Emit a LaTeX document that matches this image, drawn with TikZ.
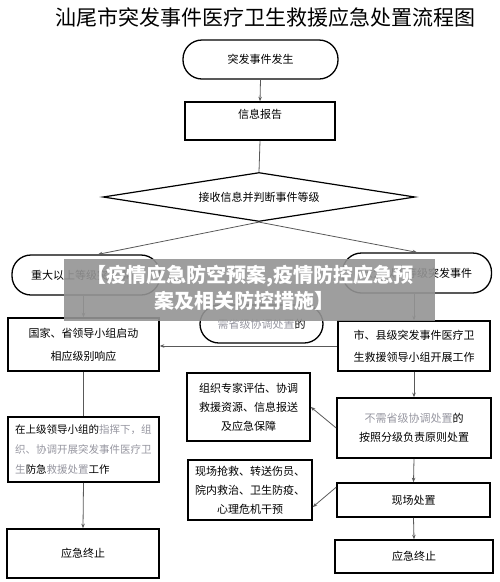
\documentclass[tikz,border=0pt]{standalone}
\usepackage{fontspec}
\setmainfont{Noto Sans CJK SC}
\usetikzlibrary{shapes.geometric,arrows.meta}
\definecolor{fade}{RGB}{150,150,160}
\begin{document}
\begin{tikzpicture}[x=1pt,y=-1pt,
 box/.style={draw=black,line width=1.6pt,rectangle,inner sep=0pt,font=\fontsize{11}{19}\selectfont,align=center},
 stad/.style={draw=black,line width=1.3pt,rounded corners=19pt,inner sep=0pt,font=\fontsize{11}{19}\selectfont},
 conn/.style={draw=black!65,line width=0.8pt},
 arr/.style={conn,-{Stealth[length=4.5pt,width=3.5pt]}},
 wmtext/.style={text=white,font=\fontsize{20}{20}\selectfont\bfseries,inner sep=0pt},
]
\useasboundingbox (0,0) rectangle (500,582);
\node[font=\fontsize{21}{21}\selectfont] (title) at (266,18) {汕尾市突发事件医疗卫生救援应急处置流程图};

\node[stad,minimum width=155pt,minimum height=39pt] (start) at (260.5,59.5) {突发事件发生};
\node[box,minimum width=150pt,minimum height=38pt] (info) at (260,121) {};
\node[font=\fontsize{11}{13}\selectfont] (infot) at (260,114) {信息报告};
\node[draw=black,line width=1.2pt,diamond,aspect=6.4,inner sep=0pt,minimum width=312pt,minimum height=49pt,font=\fontsize{11}{13}\selectfont] (dia) at (259,197) {接收信息并判断事件等级};

\node[stad,minimum width=148pt,minimum height=40pt] (lstad) at (86,275) {重大以上等级突发事件};
\node[stad,minimum width=149pt,minimum height=40pt] (rstad) at (417,273) {较大以下等级突发事件};

\node[box,minimum width=151pt,minimum height=53pt,font=\fontsize{11}{23}\selectfont] (lb1) at (83.5,344.5) {国家、省领导小组启动\\相应级别响应};
\node[box,minimum width=152pt,minimum height=50pt,font=\fontsize{11}{22}\selectfont] (rb1) at (414,346) {市、县级突发事件医疗卫\\生救援领导小组开展工作};
\node[stad,minimum width=123pt,minimum height=38pt] (mst) at (261.5,324) {\textcolor{fade}{需省级协调处置}的};

\node[box,minimum width=151pt,minimum height=65pt,font=\fontsize{10.5}{20}\selectfont,align=left] (lb2) at (83.5,449.5) {在上级领导小组的\textcolor{fade}{指挥下，组}\\\textcolor{fade}{织、协调开展突发事件医疗卫}\\\textcolor{fade}{生}防急\textcolor{fade}{救援处置}工作};
\node[box,minimum width=154pt,minimum height=60pt] (rb2) at (414,428) {\textcolor{fade}{不需省级协调处置}的\\按照分级负责原则处置};
\node[box,minimum width=123pt,minimum height=68pt] (ma) at (248.5,407) {组织专家评估、协调\\救援资源、信息报送\\及应急保障};
\node[box,minimum width=124pt,minimum height=60pt] (mb) at (250,490) {现场抢救、转送伤员、\\院内救治、卫生防疫、\\心理危机干预};
\node[box,minimum width=153pt,minimum height=34pt] (rb3) at (413.5,500) {现场处置};
\node[box,minimum width=158pt,minimum height=33pt] (rb4) at (414,556.5) {应急终止};
\node[box,minimum width=152pt,minimum height=49pt] (lb3) at (83,553.5) {应急终止};

\draw[arr] (start.south) -- (info.north);
\draw[conn] (info.south) -- (dia.north);
\draw[arr] (dia.south) -- ([xshift=12pt]lstad.north);
\draw[arr] (dia.south) -- (rstad.north);
\draw[arr] (lb1.north |- lstad.south) -- (lb1.north);
\draw[arr] (rb1.north |- rstad.south) -- (rb1.north);
\draw[arr] (rb1.west) -- (rb1.west -| lb1.east);
\draw[conn] (lb1.south) -- (lb2.north);
\draw[arr] (lb2.south) -- (lb3.north);
\draw[arr] (rb1.south) -- (rb2.north);
\draw[arr] (rb2.west) -- (ma.east);
\draw[arr] (rb2.south) -- (rb3.north);
\draw[arr] ([yshift=-5pt]rb3.north west) -- ([yshift=-17pt]mb.east);
\draw[arr] (rb3.south) -- (rb4.north);

\fill[black!42,opacity=0.9] (64,259) rectangle (435,321);
\node[wmtext] (wm1) at (250,276) {【疫情应急防空预案,疫情防控应急预};
\node[wmtext] (wm2) at (244,301) {案及相关防控措施】};
\end{tikzpicture}
\end{document}
